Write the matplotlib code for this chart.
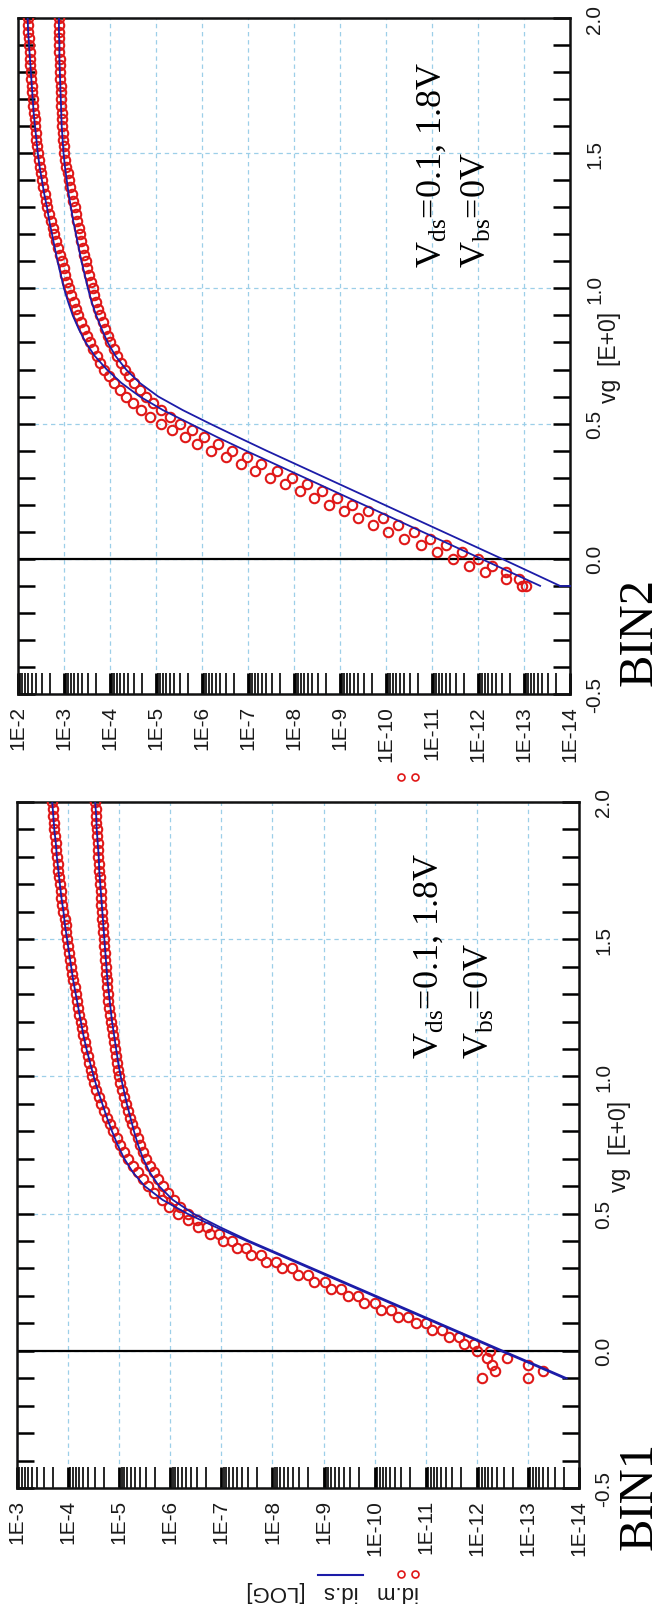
import matplotlib
matplotlib.use('Agg')
import matplotlib.pyplot as plt
import numpy as np
from matplotlib.ticker import FixedLocator, NullFormatter, FixedFormatter

plt.rcParams['mathtext.fontset'] = 'custom'
plt.rcParams['mathtext.rm'] = 'Liberation Serif'
plt.rcParams['mathtext.it'] = 'Liberation Serif:italic'

# ---------------- data (log10 of drain current) ----------------
VG_MEAS = [-0.100, -0.075, -0.050, -0.025, 0.000, 0.025, 0.050, 0.075, 0.100, 0.125,
           0.150, 0.175, 0.200, 0.225, 0.250, 0.275, 0.300, 0.325, 0.350, 0.375,
           0.400, 0.425, 0.450, 0.475, 0.500, 0.525, 0.550, 0.575, 0.600, 0.625,
           0.650, 0.675, 0.700, 0.725, 0.750, 0.775, 0.800, 0.825, 0.850, 0.875,
           0.900, 0.925, 0.950, 0.975, 1.000, 1.025, 1.050, 1.075, 1.100, 1.125,
           1.150, 1.175, 1.200, 1.225, 1.250, 1.275, 1.300, 1.325, 1.350, 1.375,
           1.400, 1.425, 1.450, 1.475, 1.500, 1.525, 1.550, 1.575, 1.600, 1.625,
           1.650, 1.675, 1.700, 1.725, 1.750, 1.775, 1.800, 1.825, 1.850, 1.875,
           1.900, 1.925, 1.950, 1.975, 2.000]

VG_LINE = [-0.10, -0.05, 0.00, 0.05, 0.10, 0.15, 0.20, 0.25, 0.30, 0.35, 0.40,
           0.45, 0.50, 0.55, 0.60, 0.65, 0.70, 0.75, 0.80, 0.85, 0.90, 0.95,
           1.00, 1.05, 1.10, 1.15, 1.20, 1.25, 1.30, 1.35, 1.40, 1.45, 1.50,
           1.55, 1.60, 1.65, 1.70, 1.75, 1.80, 1.85, 1.90, 1.95, 2.00]

# BIN1 measured (circles): Vds=1.8 V and Vds=0.1 V
BIN1_MEAS_VD18 = [-12.10, -12.35, -12.30, -12.20, -12.00, -11.75, -11.45, -11.12, -10.80, -10.45,
                  -10.12, -9.80, -9.47, -9.15, -8.82, -8.50, -8.18, -7.88, -7.58, -7.30,
                  -7.03, -6.78, -6.55, -6.34, -6.15, -5.98, -5.83, -5.69, -5.57, -5.46,
                  -5.36, -5.27, -5.18, -5.10, -5.02, -4.95, -4.88, -4.82, -4.76, -4.70,
                  -4.65, -4.60, -4.55, -4.51, -4.47, -4.44, -4.41, -4.38, -4.36, -4.33,
                  -4.30, -4.28, -4.25, -4.22, -4.20, -4.17, -4.15, -4.13, -4.10, -4.08,
                  -4.06, -4.04, -4.02, -4.00, -3.98, -3.96, -3.95, -3.93, -3.91, -3.89,
                  -3.87, -3.86, -3.84, -3.83, -3.81, -3.80, -3.78, -3.77, -3.76, -3.74,
                  -3.73, -3.72, -3.71, -3.70, -3.69]
BIN1_MEAS_VD01 = [-13.00, -13.30, -13.00, -12.60, -12.25, -11.95, -11.65, -11.32, -11.00, -10.65,
                  -10.32, -10.00, -9.67, -9.35, -9.02, -8.70, -8.38, -8.07, -7.77, -7.48,
                  -7.20, -6.95, -6.72, -6.52, -6.35, -6.20, -6.07, -5.95, -5.85, -5.76,
                  -5.68, -5.60, -5.53, -5.47, -5.41, -5.36, -5.31, -5.26, -5.21, -5.17,
                  -5.13, -5.09, -5.06, -5.02, -4.99, -4.97, -4.95, -4.93, -4.91, -4.89,
                  -4.87, -4.86, -4.84, -4.82, -4.81, -4.79, -4.78, -4.77, -4.76, -4.75,
                  -4.74, -4.73, -4.72, -4.71, -4.70, -4.69, -4.68, -4.67, -4.66, -4.65,
                  -4.65, -4.64, -4.63, -4.62, -4.61, -4.60, -4.59, -4.58, -4.58, -4.57,
                  -4.56, -4.55, -4.55, -4.54, -4.53]
# BIN1 model (lines)
BIN1_SIM_VD18 = [-13.71, -13.09, -12.46, -11.84, -11.22, -10.60, -9.98, -9.36, -8.74, -8.12, -7.50,
                 -6.90, -6.33, -5.85, -5.50, -5.27, -5.10, -4.97, -4.86, -4.76, -4.67, -4.58,
                 -4.50, -4.43, -4.36, -4.30, -4.25, -4.20, -4.15, -4.10, -4.06, -4.02, -3.98,
                 -3.94, -3.91, -3.87, -3.84, -3.81, -3.78, -3.76, -3.73, -3.71, -3.69]
BIN1_SIM_VD01 = [-13.76, -13.14, -12.51, -11.89, -11.27, -10.65, -10.03, -9.41, -8.79, -8.17, -7.55,
                 -6.98, -6.45, -6.05, -5.78, -5.60, -5.47, -5.37, -5.29, -5.22, -5.15, -5.09,
                 -5.03, -4.98, -4.94, -4.90, -4.86, -4.83, -4.80, -4.77, -4.75, -4.73, -4.71,
                 -4.69, -4.67, -4.65, -4.63, -4.61, -4.60, -4.58, -4.56, -4.55, -4.53]

# BIN2 measured (circles)
BIN2_MEAS_VD18 = [-12.95, -12.60, -12.15, -11.80, -11.45, -11.10, -10.75, -10.40, -10.05, -9.72,
                  -9.40, -9.08, -8.76, -8.44, -8.12, -7.80, -7.48, -7.16, -6.84, -6.52,
                  -6.20, -5.90, -5.62, -5.35, -5.10, -4.88, -4.68, -4.50, -4.35, -4.21,
                  -4.09, -3.98, -3.88, -3.79, -3.71, -3.63, -3.56, -3.49, -3.43, -3.37,
                  -3.31, -3.26, -3.21, -3.16, -3.11, -3.07, -3.03, -2.99, -2.95, -2.91,
                  -2.87, -2.83, -2.79, -2.75, -2.71, -2.67, -2.64, -2.61, -2.58, -2.55,
                  -2.52, -2.50, -2.47, -2.45, -2.43, -2.42, -2.40, -2.39, -2.37, -2.36,
                  -2.34, -2.33, -2.32, -2.31, -2.30, -2.29, -2.28, -2.27, -2.26, -2.25,
                  -2.24, -2.23, -2.22, -2.22, -2.21]
BIN2_MEAS_VD01 = [-13.05, -12.90, -12.60, -12.30, -12.00, -11.65, -11.30, -10.95, -10.60, -10.26,
                  -9.93, -9.60, -9.27, -8.94, -8.61, -8.28, -7.95, -7.62, -7.29, -6.97,
                  -6.65, -6.34, -6.05, -5.78, -5.53, -5.31, -5.11, -4.93, -4.78, -4.65,
                  -4.53, -4.42, -4.32, -4.23, -4.15, -4.08, -4.01, -3.95, -3.89, -3.84,
                  -3.79, -3.74, -3.70, -3.66, -3.62, -3.58, -3.54, -3.51, -3.47, -3.44,
                  -3.41, -3.38, -3.35, -3.32, -3.29, -3.26, -3.23, -3.20, -3.17, -3.14,
                  -3.11, -3.08, -3.05, -3.02, -3.00, -2.99, -2.98, -2.97, -2.96, -2.95,
                  -2.95, -2.94, -2.94, -2.93, -2.93, -2.92, -2.92, -2.91, -2.91, -2.90,
                  -2.90, -2.90, -2.89, -2.89, -2.89]
# BIN2 model (lines)
BIN2_SIM_VD18 = [-13.35, -12.71, -12.07, -11.43, -10.79, -10.15, -9.51, -8.87, -8.23, -7.59, -6.95,
                 -6.33, -5.74, -5.15, -4.65, -4.25, -3.93, -3.67, -3.47, -3.32, -3.19, -3.09,
                 -3.00, -2.93, -2.86, -2.80, -2.74, -2.68, -2.63, -2.57, -2.52, -2.47, -2.43,
                 -2.40, -2.37, -2.34, -2.32, -2.30, -2.28, -2.26, -2.24, -2.22, -2.21]
BIN2_SIM_VD01 = [-13.78, -13.15, -12.52, -11.88, -11.24, -10.60, -9.96, -9.32, -8.68, -8.04, -7.40,
                 -6.78, -6.17, -5.58, -5.05, -4.65, -4.35, -4.12, -3.95, -3.82, -3.70, -3.60,
                 -3.52, -3.45, -3.38, -3.32, -3.26, -3.20, -3.15, -3.10, -3.06, -3.02, -2.99,
                 -2.97, -2.95, -2.94, -2.93, -2.92, -2.91, -2.90, -2.90, -2.89, -2.89]

BIN1_DECADES = [3, 4, 5, 6, 7, 8, 9, 10, 11, 12, 13, 14]
BIN2_DECADES = [2, 3, 4, 5, 6, 7, 8, 9, 10, 11, 12, 13, 14]
VG_MAJOR = [-0.5, 0.0, 0.5, 1.0, 1.5, 2.0]
VG_MINOR = [-0.4, -0.3, -0.2, -0.1, 0.1, 0.2, 0.3, 0.4, 0.6, 0.7, 0.8, 0.9,
            1.1, 1.2, 1.3, 1.4, 1.6, 1.7, 1.8, 1.9]
VG_LABELS = ['-0.5', '0.0', '0.5', '1.0', '1.5', '2.0']
CLAMP_LOG = -14.0

# ---------------- figure ----------------
W, H = 665, 1615
fig = plt.figure(figsize=(W / 100, H / 100), dpi=100)
fig.patch.set_facecolor('white')

RED = '#e01818'
BLUE = '#1c1ca8'
GRID = '#9ccfe8'
SANS = 'Liberation Sans'
SERIF = 'Liberation Serif'


def px_axes(l, t, r, b):
    return fig.add_axes([l / W, 1 - b / H, (r - l) / W, (b - t) / H])


def setup(ax, decades):
    ax.set_xscale('log')
    ax.set_xlim(10.0 ** (-decades[0]), 10.0 ** (-decades[-1]))
    ax.set_ylim(VG_MAJOR[0], VG_MAJOR[-1])
    ax.xaxis.set_major_locator(FixedLocator([10.0 ** (-k) for k in decades]))
    ax.xaxis.set_major_formatter(FixedFormatter(['1E-%d' % k for k in decades]))
    minors = [m * 10.0 ** (-k) for k in decades[1:] for m in range(2, 10)]
    ax.xaxis.set_minor_locator(FixedLocator(minors))
    ax.xaxis.set_minor_formatter(NullFormatter())
    ax.yaxis.set_major_locator(FixedLocator(VG_MAJOR))
    ax.yaxis.set_major_formatter(FixedFormatter(VG_LABELS))
    ax.yaxis.set_minor_locator(FixedLocator(VG_MINOR))
    ax.tick_params(axis='x', which='both', direction='in', bottom=True, top=False,
                   labelbottom=True, labelrotation=90, pad=8, labelsize=15,
                   length=15, width=1.2, labelcolor='#1a1a1a')
    ax.tick_params(axis='x', which='major', width=2.0)
    ax.tick_params(axis='y', which='both', direction='in', left=True, right=True,
                   labelleft=False, labelright=True, labelrotation=90, pad=11,
                   labelsize=15, length=12, width=1.8, labelcolor='#1a1a1a')
    for lab in ax.get_xticklabels() + ax.get_yticklabels():
        lab.set_fontfamily(SANS)
    for lab in ax.get_yticklabels():
        lab.set_va('center')
    ax.grid(True, which='major', color=GRID, ls=(0, (3.5, 3)), lw=0.9)
    ax.set_axisbelow(True)
    for sp in ax.spines.values():
        sp.set_linewidth(1.8)
        sp.set_color('#111111')
    ax.axhline(0.0, color='black', lw=1.6, zorder=2)


def draw_curves(ax, meas_a, meas_b, sim_a, sim_b):
    for m in (meas_a, meas_b):
        ax.plot(10.0 ** np.array(m), VG_MEAS, ls='none', marker='o', ms=6.8,
                mfc='none', mec=RED, mew=1.5, zorder=3)
    for s in (sim_a, sim_b):
        ax.plot(10.0 ** np.array(s), VG_LINE, color=BLUE, lw=1.3, zorder=4)


# BIN2 (top panel)
ax2 = px_axes(18, 19, 570, 695)
setup(ax2, BIN2_DECADES)
draw_curves(ax2, BIN2_MEAS_VD18, BIN2_MEAS_VD01, BIN2_SIM_VD18, BIN2_SIM_VD01)
ax2.plot([10.0 ** BIN2_SIM_VD01[0], 10.0 ** CLAMP_LOG], [VG_LINE[0], VG_LINE[0]],
         color=BLUE, lw=1.3, zorder=4, clip_on=False)

# BIN1 (bottom panel)
ax1 = px_axes(17, 803, 579, 1489)
setup(ax1, BIN1_DECADES)
draw_curves(ax1, BIN1_MEAS_VD18, BIN1_MEAS_VD01, BIN1_SIM_VD18, BIN1_SIM_VD01)


def ftext(x, y, s, **kw):
    fig.text(x / W, 1 - y / H, s, **kw)


for ax, vx_ds, vx_bs, ystart in ((ax2, 0.765, 0.848, 0.632), (ax1, 0.748, 0.84, 0.627)):
    ax.text(vx_ds, ystart, r'V$_{\mathrm{ds}}$=0.1, 1.8V', transform=ax.transAxes,
            rotation=90, rotation_mode='anchor', ha='left', va='baseline',
            fontsize=26, family=SERIF, zorder=6)
    ax.text(vx_bs, ystart, r'V$_{\mathrm{bs}}$=0V', transform=ax.transAxes,
            rotation=90, rotation_mode='anchor', ha='left', va='baseline',
            fontsize=26, family=SERIF, zorder=6)
    ax.text(1.0 + 40 / 560, 0.5, 'vg  [E+0]', transform=ax.transAxes, rotation=90,
            ha='center', va='center', fontsize=16.5, family=SANS, color='#1a1a1a')

ftext(640, 632, 'BIN2', rotation=90, ha='center', va='center', fontsize=35, family=SERIF)
ftext(640, 1496, 'BIN1', rotation=90, ha='center', va='center', fontsize=35, family=SERIF)

# upside-down y label of BIN1 with its legend glyphs
ftext(333, 1592, 'id.m   id.s   [LOG]', rotation=180, ha='center', va='center',
      fontsize=16, family=SANS, color='#1a1a1a')
fig.add_artist(plt.Line2D([318 / W, 363 / W], [1 - 1576 / H, 1 - 1576 / H], color=BLUE, lw=1.5))
for cx in (401, 415):
    fig.add_artist(plt.Line2D([cx / W], [1 - 1575 / H], marker='o', ms=5, mfc='none',
                              mec=RED, mew=1.2, ls='none'))
# partially visible legend glyphs of BIN2 label
for cx in (401, 415):
    fig.add_artist(plt.Line2D([cx / W], [1 - 778 / H], marker='o', ms=5, mfc='none',
                              mec=RED, mew=1.2, ls='none'))

fig.savefig('out.png', dpi=100, facecolor='white')
